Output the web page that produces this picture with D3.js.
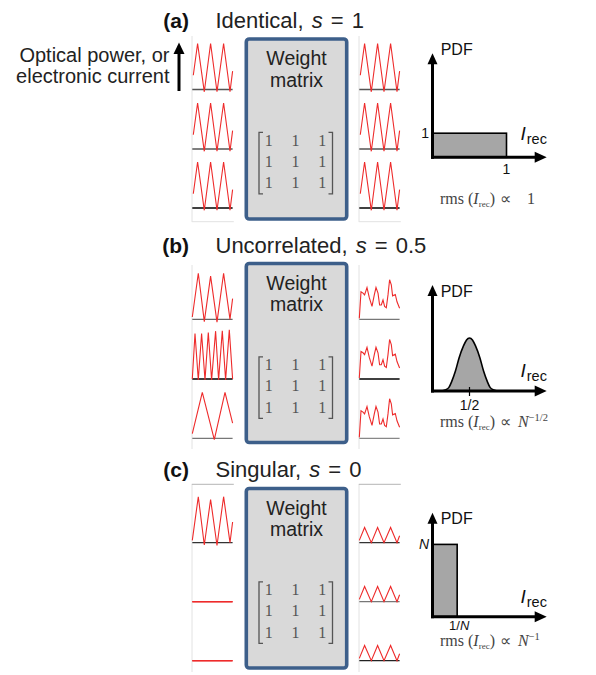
<!DOCTYPE html>
<html><head><meta charset="utf-8">
<script src="https://cdn.jsdelivr.net/npm/d3@7"></script>
<style>body{margin:0;background:#fff}svg{display:block}</style>
</head><body>
<script>
// ================= DATA =================
const panelLetters = ["(a)", "(b)", "(c)"];
const panelNames = ["Identical, ", "Uncorrelated, ", "Singular, "];
const sValues = ["1", "0.5", "0"];
const matrixValues = [[1, 1, 1], [1, 1, 1], [1, 1, 1]];
const sideLabel = ["Optical power, or", "electronic current"];

// waveforms: [time, normalized level]
const triWaveA = [[1,0.31],[5.3,1],[12,-0.05],[18.3,1],[24.7,-0.05],[31.3,1],[37.7,-0.05],[40.3,0.4]];
const triWaveB = [[0,0.05],[6,1],[12,-0.05],[18.3,0.94],[24.7,-0.06],[31.3,1],[37.7,0],[40.3,0.45]];
const fastWave = [[0,0],[2.7,0.99],[6,-0.02],[9.3,0.99],[12.7,-0.02],[16,1.01],[19.3,-0.02],[23.3,1.04],[26.3,-0.02],[30,1.05],[33.3,-0.02],[37,1.07],[40.3,0]];
const slowWave = [[0,0.1],[10,1],[22,-0.03],[32.7,1],[40.3,0.33]];
const noisyWave = [[0,0.02],[1.7,0.60],[3.7,0.57],[5.3,0.53],[7.7,0.69],[10,0.47],[12.7,0.28],[15,0.53],[16.7,0.69],[18.7,0.57],[20.3,0.31],[22,0.31],[23.7,0.42],[25.3,0.28],[27,0.25],[28.7,0.53],[30.3,0.86],[32,0.75],[33.3,0.51],[36,0.54],[37.7,0.38],[40.3,0.24]];
const smallTriWave = [[0,0.05],[5.3,0.33],[12,0],[18.3,0.33],[24.7,0],[31.3,0.33],[37.7,0],[40.3,0.15]];
const flatWave = [[0,0],[40.3,0]];

const inputWaves = [[triWaveA, triWaveA, triWaveA], [triWaveB, fastWave, slowWave], [triWaveB, flatWave, flatWave]];
const outputWaves = [[triWaveA, triWaveA, triWaveA], [noisyWave, noisyWave, noisyWave], [smallTriWave, smallTriWave, smallTriWave]];

// PDFs
const rectA = [0, 1, 1];          // x0, x1, height
const gaussX = [0.12,0.17,0.22,0.26,0.31,0.36,0.42,0.46,0.50,0.54,0.58,0.64,0.69,0.74,0.78,0.83,0.88];
const gaussY = [0.00,0.04,0.14,0.40,0.83,1.38,1.88,2.12,2.20,2.12,1.88,1.38,0.83,0.40,0.14,0.04,0.00];
const N = 3;
const rectC = [0, 1 / N, N];
const xTickLabels = ["1", "1/2", "1/"];
const xTickValues = [1, 0.5, 1 / N];
const yTickLabels = ["1", "", "N"];
const yTickValues = [1, 0, N];
const rmsExponents = ["", "\u22121/2", "\u22121"];

// ================= LAYOUT =================
const W = 596, H = 675;
const SANS = "'Liberation Sans', Arial, Helvetica, sans-serif";
const SERIF = "'Liberation Serif', 'Times New Roman', serif";
const layout = [
  {titleY:28.3, boxTop:39, boxBot:219, rows:[89.5,149,208], axisY:157.3, tipY:53.3, pdfY:55, irecY:140, rmsY:204, xlabDy:16.7, frameTop:36, frameBot:221.7, hTop:false, hBot:true},
  {titleY:253.3, boxTop:263.5, boxBot:442.5, rows:[319.3,379,438.3], axisY:391, tipY:285, pdfY:296.7, irecY:377, rmsY:426.7, xlabDy:18.5, frameTop:265, frameBot:449, hTop:false, hBot:false},
  {titleY:476.7, boxTop:488.5, boxBot:668, rows:[542.7,601.7,660.7], axisY:616.7, tipY:512.7, pdfY:524, irecY:603, rmsY:646, xlabDy:13.3, frameTop:484.3, frameBot:672, hTop:true, hBot:false}
];
const baseColors = [["#555","#555","#000"],["#666","#000","#777"],["#333","#e33","#e33"]];
const baseColorsR = [["#555","#555","#000"],["#777","#000","#888"],["#333","#777","#222"]];
const colX = [192.3, 359.3];
const waveAmp = 46;
const RED = "#ee2b2b";

const svg = d3.select("body").append("svg").attr("width", W).attr("height", H);

// side label + arrow
const side = svg.append("text").attr("font-family", SANS).attr("font-size", 20).attr("fill", "#222").attr("text-anchor", "end");
sideLabel.forEach((t, i) => side.append("tspan").attr("x", 169.5).attr("y", i === 0 ? 61.7 : 83.3).text(t));
svg.append("line").attr("x1", 179).attr("x2", 179).attr("y1", 91).attr("y2", 52).attr("stroke", "#000").attr("stroke-width", 3);
svg.append("path").attr("d", "M173.5,54 L179,42.5 L184.5,54 Z").attr("fill", "#000");

const xWave = d3.scaleLinear().domain([0, 40.3]);
const waveLine = (ys) => d3.line().x(d => xWave(d[0])).y(d => ys(d[1]));

layout.forEach((L, p) => {
  const g = svg.append("g");
  // title
  g.append("text").attr("x", 189).attr("y", L.titleY).attr("text-anchor", "end")
    .attr("font-family", SANS).attr("font-weight", "bold").attr("font-size", 21).attr("fill", "#111").text(panelLetters[p]);
  const tt = g.append("text").attr("x", 215.5).attr("y", L.titleY).attr("font-family", SANS).attr("font-size", 22)
    .attr("word-spacing", 2).attr("fill", "#222");
  tt.append("tspan").text(panelNames[p]);
  tt.append("tspan").attr("font-style", "italic").text("s");
  tt.append("tspan").text(" = " + sValues[p]);

  // waveform columns
  [0, 1].forEach(c => {
    const x0 = colX[c];
    xWave.range([x0, x0 + 40.3]);
    const fc = "#e2e2e2";
    g.append("line").attr("x1", x0 - 0.3).attr("x2", x0 - 0.3).attr("y1", L.frameTop).attr("y2", L.frameBot).attr("stroke", fc).attr("stroke-width", 1);
    if (L.hBot) g.append("line").attr("x1", x0 - 0.5).attr("x2", x0 + 41.5).attr("y1", L.frameBot).attr("y2", L.frameBot).attr("stroke", fc);
    if (L.hTop) g.append("line").attr("x1", x0 - 0.5).attr("x2", x0 + 41.5).attr("y1", L.frameTop).attr("y2", L.frameTop).attr("stroke", "#b5b5b5");
    const waves = c === 0 ? inputWaves[p] : outputWaves[p];
    waves.forEach((w, r) => {
      const base = L.rows[r];
      const ys = d3.scaleLinear().domain([0, 1]).range([base, base - waveAmp]);
      const flat = w === flatWave;
      g.append("line").attr("x1", xWave(0)).attr("x2", xWave(40.3)).attr("y1", base).attr("y2", base)
        .attr("stroke", (c === 0 ? baseColors : baseColorsR)[p][r]).attr("stroke-width", 1.3);
      g.append("path").attr("d", waveLine(ys)(w)).attr("fill", "none").attr("stroke", RED)
        .attr("stroke-width", flat ? 1.6 : 1.1).attr("stroke-linejoin", "miter");
    });
  });

  // weight matrix box
  const bx0 = 246.3, bx1 = 346.7;
  g.append("rect").attr("x", bx0).attr("y", L.boxTop).attr("width", bx1 - bx0).attr("height", L.boxBot - L.boxTop)
    .attr("rx", 3).attr("fill", "#d9d9d9").attr("stroke", "#3d5f8a").attr("stroke-width", 3.6);
  const wt = g.append("text").attr("font-family", SANS).attr("font-size", 19.5).attr("fill", "#222").attr("text-anchor", "middle");
  wt.append("tspan").attr("x", 296.5).attr("y", L.boxTop + 26).text("Weight");
  wt.append("tspan").attr("x", 296.5).attr("y", L.boxTop + 47.5).text("matrix");
  const mx = 295.5;
  const colS = d3.scalePoint().domain([0, 1, 2]).range([mx - 26.7, mx + 26.7]);
  const rowS = d3.scalePoint().domain([0, 1, 2]).range([L.boxTop + 106.5, L.boxTop + 149.2]);
  matrixValues.forEach((row, ri) => row.forEach((v, ci) => {
    g.append("text").attr("x", colS(ci)).attr("y", rowS(ri)).attr("text-anchor", "middle")
      .attr("font-family", SERIF).attr("font-size", 16).attr("fill", "#555").text(v);
  }));
  const bt = L.boxTop + 93.3, bb = L.boxTop + 154.8;
  g.append("path").attr("d", `M${mx - 32.5},${bt} H${mx - 36.5} V${bb} H${mx - 32.5}`).attr("fill", "none").attr("stroke", "#555").attr("stroke-width", 1.3);
  g.append("path").attr("d", `M${mx + 33},${bt} H${mx + 37} V${bb} H${mx + 33}`).attr("fill", "none").attr("stroke", "#555").attr("stroke-width", 1.3);

  // PDF chart
  const xs = d3.scaleLinear().domain([0, 1]).range([432.5, 506.5]);
  const ys = d3.scaleLinear().domain([0, 1]).range([L.axisY, L.axisY - 24.1]);
  if (p === 0 || p === 2) {
    const R = p === 0 ? rectA : rectC;
    g.append("rect").attr("x", xs(R[0])).attr("y", ys(R[2])).attr("width", xs(R[1]) - xs(R[0])).attr("height", ys(0) - ys(R[2]))
      .attr("fill", "#a6a6a6").attr("stroke", "#000").attr("stroke-width", 1.6);
  } else {
    const pts = gaussX.map((x, i) => [x, gaussY[i]]);
    g.append("path").attr("d", d3.area().x(d => xs(d[0])).y0(ys(0)).y1(d => ys(d[1])).curve(d3.curveMonotoneX)(pts))
      .attr("fill", "#a6a6a6");
    g.append("path").attr("d", d3.line().x(d => xs(d[0])).y(d => ys(d[1])).curve(d3.curveMonotoneX)(pts))
      .attr("fill", "none").attr("stroke", "#000").attr("stroke-width", 1.6);
    g.append("line").attr("x1", xs(0.5)).attr("x2", xs(0.5)).attr("y1", L.axisY - 4).attr("y2", L.axisY + 5).attr("stroke", "#000").attr("stroke-width", 1.2);
  }
  // axes arrows
  const ax = xs(0), tipX = 546.7;
  g.append("line").attr("x1", ax).attr("x2", ax).attr("y1", L.axisY + 1.5).attr("y2", L.tipY + 9).attr("stroke", "#000").attr("stroke-width", 3);
  g.append("line").attr("x1", ax - 1.5).attr("x2", tipX - 10).attr("y1", L.axisY).attr("y2", L.axisY).attr("stroke", "#000").attr("stroke-width", 3);
  g.append("path").attr("d", `M${ax - 5},${L.tipY + 11} L${ax},${L.tipY} L${ax + 5},${L.tipY + 11} Z`).attr("fill", "#000");
  g.append("path").attr("d", `M${tipX - 12},${L.axisY - 5.5} L${tipX},${L.axisY} L${tipX - 12},${L.axisY + 5.5} Z`).attr("fill", "#000");

  g.append("text").attr("x", 440.7).attr("y", L.pdfY).attr("font-family", SANS).attr("font-size", 16).attr("fill", "#111").text("PDF");
  const ir = g.append("text").attr("x", 520.5).attr("y", L.irecY).attr("font-family", SANS).attr("fill", "#111");
  ir.append("tspan").attr("font-size", 19).attr("font-style", "italic").text("I");
  ir.append("tspan").attr("font-size", 14.5).attr("dy", 4).attr("dx", 1).text("rec");

  // tick labels
  const xl = g.append("text").attr("x", xs(xTickValues[p]) + (p === 2 ? 2 : 0)).attr("y", L.axisY + L.xlabDy)
    .attr("text-anchor", "middle").attr("font-family", SANS).attr("font-size", p === 2 ? 13 : 14).attr("fill", "#111");
  xl.append("tspan").text(xTickLabels[p]);
  if (p === 2) xl.append("tspan").attr("font-style", "italic").text("N");
  if (yTickLabels[p]) {
    g.append("text").attr("x", ax - 3.5).attr("y", ys(yTickValues[p]) + 5).attr("text-anchor", "end")
      .attr("font-family", SANS).attr("font-size", 14).attr("fill", "#111")
      .attr("font-style", p === 2 ? "italic" : "normal").text(yTickLabels[p]);
  }

  // rms text
  const rt = g.append("text").attr("x", 440).attr("y", L.rmsY).attr("font-family", SERIF).attr("font-size", 16).attr("fill", "#444");
  rt.append("tspan").text("rms (");
  rt.append("tspan").attr("font-style", "italic").text("I");
  rt.append("tspan").attr("font-size", 9).attr("dy", 3).text("rec");
  rt.append("tspan").attr("dy", -3).text(")");
  rt.append("tspan").attr("dx", 5).text("\u221D");
  if (p === 0) {
    rt.append("tspan").attr("dx", 16).text("1");
  } else {
    rt.append("tspan").attr("dx", 7).attr("font-style", "italic").text("N");
    rt.append("tspan").attr("font-size", 10.5).attr("dy", -6).text(rmsExponents[p]);
  }
});
</script>
</body></html>
